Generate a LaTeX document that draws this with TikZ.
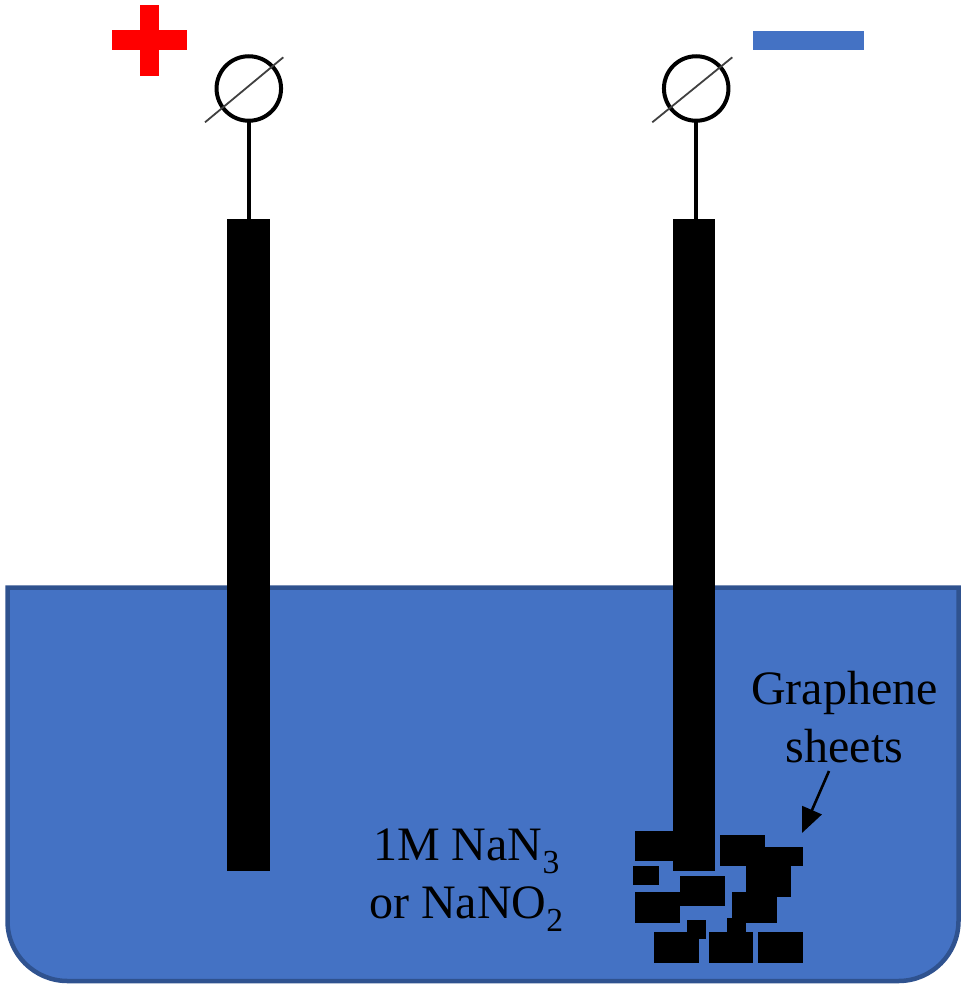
\documentclass[tikz,border=0pt]{standalone}
\usepackage{fontspec}
\setmainfont{Liberation Serif}
\usetikzlibrary{arrows.meta}
\definecolor{tankblue}{HTML}{4472C4}
\definecolor{tankedge}{HTML}{2F528F}
\tikzset{
  x=1pt,y=-1pt,
  block/.style={fill=black,draw=none},
  rod/.style={fill=black,draw=none,minimum width=42.5pt,minimum height=652pt,inner sep=0pt,outer sep=0pt},
  terminal/.style={circle,draw=black,line width=4pt,fill=white,minimum size=64.5pt,inner sep=0pt,outer sep=0pt},
  wire/.style={line width=4pt,draw=black},
  slash/.style={line width=1.8pt,draw=black!75},
  lab/.style={align=center,inner sep=0pt,font=\fontsize{48}{58}\selectfont},
  pointer/.style={line width=2.6pt,-{Triangle[length=25pt,width=21pt]},shorten >=0pt}
}
\begin{document}
\begin{tikzpicture}
\useasboundingbox (0,0) rectangle (964,1001);
% tank
\draw[tankedge,fill=tankblue,line width=4.5pt,miter limit=2]
  (7.5,587.5) -- (958.5,587.5) -- (958.5,921) arc[start angle=0,end angle=90,radius=60]
  -- (67.5,981) arc[start angle=90,end angle=180,radius=60] -- cycle;
% graphene sheets (behind the rod)
\foreach \xa/\ya/\xb/\yb in {
  635.3/830.7/680/861, 633/866/659/885, 680/875.7/725/906, 635.3/891.7/680/922.7,
  720.3/835.3/765/866, 758/847.3/803/866, 746.3/866/791.3/896.7, 732/892/777/922.7,
  727.3/917.7/746.3/933, 687.3/920.3/706/939, 654.3/932.3/699/962.7,
  708.7/932.3/753.3/962.7, 758/932.3/803/962.7}
  \fill[block] (\xa,\ya) rectangle (\xb,\yb);
% rods
\node[rod] (rodL) at (248.5,545) {};
\node[rod] (rodR) at (694.2,545) {};
% terminals
\node[terminal] (termL) at (248.8,88.5) {};
\node[terminal] (termR) at (696.2,88.5) {};
\draw[wire] (termL.south) -- (termL.south |- rodL.north);
\draw[wire] (termR.south) -- (termR.south |- rodR.north);
\coordinate (sLa) at (205,122.3); \coordinate (sLb) at (283.3,57.3);
\coordinate (sRa) at (652.3,122.3); \coordinate (sRb) at (732.3,57.3);
\draw[slash] (sLa) -- (sLb);
\draw[slash] (sRa) -- (sRb);
% polarity marks
\fill[red] (111.7,30.3) rectangle (187,50);
\fill[red] (140,4.7) rectangle (159.3,76);
\fill[tankblue] (753,30.7) rectangle (864.3,50);
% labels
\node[lab] (gs) at (844.5,717.5) {Graphene\\sheets};
\node[lab] (salt) at (466.5,880) {1M NaN\textsubscript{3}\\or NaNO\textsubscript{2}};
% pointer
\coordinate (pA) at (829,771);
\coordinate (pB) at (802,833);
\draw[pointer] (pA) -- (pB);
\end{tikzpicture}
\end{document}
